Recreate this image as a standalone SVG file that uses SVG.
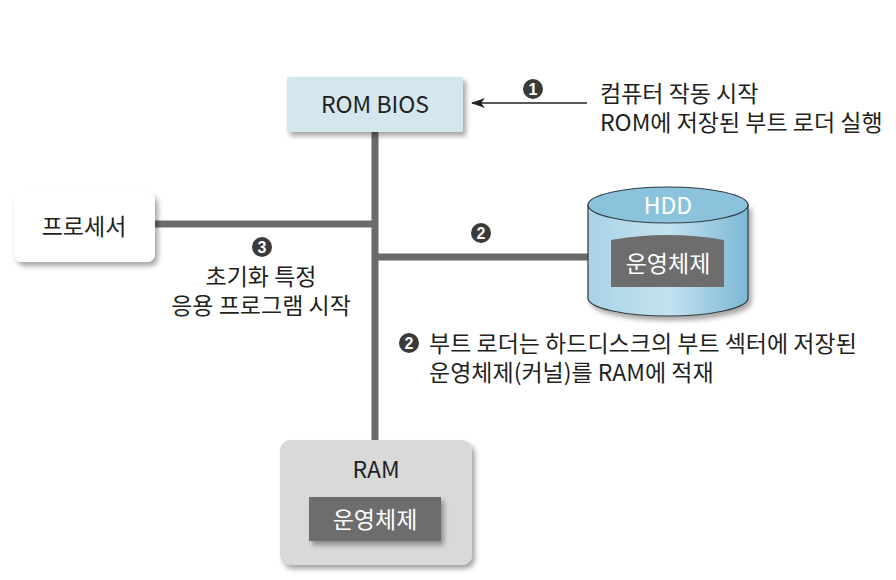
<svg xmlns="http://www.w3.org/2000/svg" width="896" height="580" viewBox="0 0 896 580">
<defs>
<style>
text{font-family:"Noto Sans CJK KR","Liberation Sans",sans-serif;fill:#231f20}
.t{font-size:23px}
.w{fill:#fff}
.bus{stroke:#6b6b6b;stroke-width:7;fill:none}
.num{fill:#3a3a3a}
.numt{font-family:"Liberation Sans",sans-serif;font-size:16px;font-weight:bold;fill:#fff}
</style>
<filter id="sh" x="-20%" y="-20%" width="150%" height="150%">
<feDropShadow dx="3" dy="4" stdDeviation="2.5" flood-color="#000" flood-opacity="0.35"/>
</filter>
<linearGradient id="cyl" x1="0" x2="1" y1="0" y2="0">
<stop offset="0" stop-color="#a9d3e6"/>
<stop offset="0.5" stop-color="#c4e2ef"/>
<stop offset="1" stop-color="#7cb8d6"/>
</linearGradient>
<marker id="ah" markerWidth="14" markerHeight="10" refX="13" refY="5" orient="auto" markerUnits="userSpaceOnUse">
<path d="M0,0 L14,5 L0,10 L4,5 Z" fill="#231f20"/>
</marker>
</defs>
<rect width="896" height="580" fill="#fff"/>
<g id="connectors">
<path class="bus" d="M375,132 V440"/>
<path class="bus" d="M155,224 H375"/>
<path class="bus" d="M375,257 H590"/>
<path d="M587,103 H472" stroke="#231f20" stroke-width="1.5" marker-end="url(#ah)"/>
</g>
<g id="rom">
<rect x="287" y="77" width="176" height="55" fill="#d4e7ef" filter="url(#sh)"/>
<text class="t" x="375" y="113" text-anchor="middle">ROM BIOS</text>
</g>
<g id="processor">
<rect x="14" y="192" width="141" height="70" rx="8" fill="#fff" filter="url(#sh)"/>
<text class="t" x="84" y="235" text-anchor="middle">프로세서</text>
</g>
<g id="hdd">
<path d="M588,205 V298 A80,18 0 0 0 748,298 V205 Z" fill="url(#cyl)" stroke="#2f3a40" stroke-width="1.2" filter="url(#sh)"/>
<ellipse cx="668" cy="205" rx="80" ry="18" fill="#8cc3dc" stroke="#2f3a40" stroke-width="1.2"/>
<text class="t w" x="668" y="214" text-anchor="middle">HDD</text>
<path d="M611,240 Q668,230 724,240 V287 H611 Z" fill="#6d6d6d"/>
<text class="t w" x="668" y="272" text-anchor="middle">운영체제</text>
</g>
<g id="ram">
<rect x="280" y="440" width="192" height="125" rx="10" fill="#d9d9da" filter="url(#sh)"/>
<text class="t" x="376" y="478" text-anchor="middle">RAM</text>
<rect x="309" y="497" width="132" height="44" fill="#6d6d6d" filter="url(#sh)"/>
<text class="t w" x="375" y="528" text-anchor="middle">운영체제</text>
</g>
<g id="labels">
<circle class="num" cx="533" cy="89" r="10"/>
<text class="numt" x="533" y="95" text-anchor="middle">1</text>
<text class="t" x="600" y="102">컴퓨터 작동 시작<tspan x="600" y="131">ROM에 저장된 부트 로더 실행</tspan></text>
<circle class="num" cx="481" cy="233" r="10"/>
<text class="numt" x="481" y="239" text-anchor="middle">2</text>
<circle class="num" cx="262" cy="247" r="10"/>
<text class="numt" x="262" y="253" text-anchor="middle">3</text>
<text class="t" x="261" y="285" text-anchor="middle">초기화 특정<tspan x="261" y="314">응용 프로그램 시작</tspan></text>
<circle class="num" cx="409" cy="343" r="10"/>
<text class="numt" x="409" y="349" text-anchor="middle">2</text>
<text class="t" x="429" y="352">부트 로더는 하드디스크의 부트 섹터에 저장된<tspan x="429" y="381">운영체제(커널)를 RAM에 적재</tspan></text>
</g>
</svg>
